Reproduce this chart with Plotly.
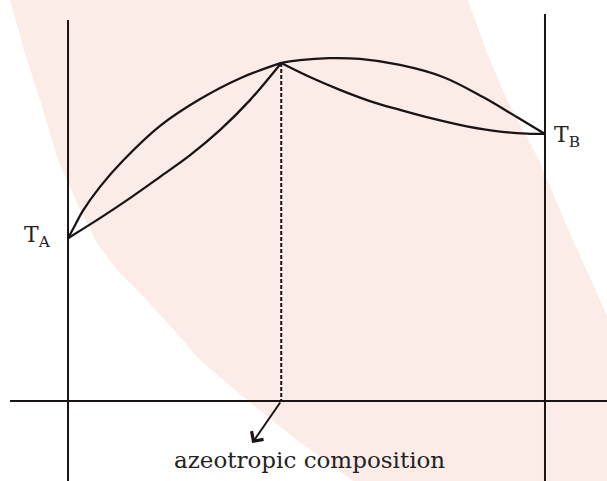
import plotly.graph_objects as go

# composition (mole fraction of B) and temperature (arbitrary units)
vap_left_x = [0, 0.015, 0.031, 0.067, 0.115, 0.193, 0.277, 0.361, 0.447]
vap_left_t = [40.6, 43.9, 47.4, 53.4, 59.9, 68.6, 75.3, 80.5, 84.3]
liq_left_x = [0, 0.067, 0.130, 0.193, 0.256, 0.319, 0.382, 0.447]
liq_left_t = [40.6, 45.6, 50.6, 55.9, 61.3, 67.6, 75.1, 84.3]
vap_right_x = [0.447, 0.486, 0.547, 0.612, 0.696, 0.786, 0.870, 0.941, 1.0]
vap_right_t = [84.3, 85.0, 85.5, 85.3, 83.8, 80.8, 75.8, 70.8, 66.6]
liq_right_x = [0.447, 0.507, 0.570, 0.633, 0.696, 0.765, 0.836, 0.906, 0.962, 1.0]
liq_right_t = [84.3, 80.8, 77.6, 74.8, 72.6, 70.4, 68.5, 67.2, 66.7, 66.6]
azeo_x = 0.447
azeo_t = 84.3
T_A = 40.6
T_B = 66.6
labels = {"TA": "T<sub>A</sub>", "TB": "T<sub>B</sub>", "azeo": "azeotropic composition"}

X_RANGE = [-0.1426, 1.1300]
Y_RANGE = [-19.95, 100.0]

INK = "#1a1414"
W, H = 607, 481

fig = go.Figure()

# axis frame lines
fig.add_trace(go.Scatter(x=[0, 0], y=[95.0, Y_RANGE[0]], mode="lines",
                         line=dict(color=INK, width=2), hoverinfo="skip"))
fig.add_trace(go.Scatter(x=[1, 1], y=[96.5, Y_RANGE[0]], mode="lines",
                         line=dict(color=INK, width=2), hoverinfo="skip"))
fig.add_trace(go.Scatter(x=[-0.1216, X_RANGE[1]], y=[0, 0], mode="lines",
                         line=dict(color=INK, width=2), hoverinfo="skip"))

for xs, ts in [(vap_left_x, vap_left_t), (liq_left_x, liq_left_t),
               (vap_right_x, vap_right_t), (liq_right_x, liq_right_t)]:
    fig.add_trace(go.Scatter(x=xs, y=ts, mode="lines",
                             line=dict(color=INK, width=2.3, shape="spline", smoothing=1.0),
                             hoverinfo="skip"))

# dashed drop line
fig.add_trace(go.Scatter(x=[azeo_x, azeo_x], y=[azeo_t, 0], mode="lines",
                         line=dict(color=INK, width=2, dash="4px,2px"), hoverinfo="skip"))

# background watermark band (paper coordinates)
left_edge = [(10, 0), (25, 53), (40, 100), (58, 160), (77, 203), (97, 243), (117, 270),
             (140, 293), (165, 320), (200, 360), (247, 400), (293, 437), (353, 481)]
right_edge = [(607, 316), (597, 293), (567, 227), (539, 160), (507, 100), (487, 53), (468, 0)]
pts = left_edge + [(607, 481)] + right_edge
path = "M " + " L ".join(f"{px / W:.4f},{1 - py / H:.4f}" for px, py in pts) + " Z"
fig.add_shape(type="path", path=path, xref="paper", yref="paper",
              fillcolor="#fbece8", line=dict(width=0), layer="below")

font_lbl = dict(family="DejaVu Serif", size=22, color="#222222")
fig.add_annotation(x=-0.031, y=T_A, text=labels["TA"], showarrow=False,
                   xanchor="right", yanchor="middle", font=font_lbl, yshift=2)
fig.add_annotation(x=1.015, y=T_B, text=labels["TB"], showarrow=False,
                   xanchor="left", yanchor="middle", font=font_lbl, yshift=-3)
fig.add_annotation(x=0.507, y=-14.7, text=labels["azeo"], showarrow=False,
                   xanchor="center", yanchor="middle",
                   font=dict(family="DejaVu Serif", size=23, color="#222222"))
# arrow from the composition point
fig.add_annotation(x=0.386, y=-10.5, ax=azeo_x, ay=0, axref="x", ayref="y",
                   xref="x", yref="y", text="", showarrow=True,
                   arrowhead=4, arrowsize=1.4, arrowwidth=2, arrowcolor=INK)

fig.update_layout(
    width=W, height=H, margin=dict(l=0, r=0, t=0, b=0),
    showlegend=False, paper_bgcolor="white", plot_bgcolor="rgba(0,0,0,0)",
    xaxis=dict(range=X_RANGE, visible=False, fixedrange=True),
    yaxis=dict(range=Y_RANGE, visible=False, fixedrange=True),
)

fig.write_html("out.html", config={"displayModeBar": False},
               post_script="document.body.style.margin='0';document.body.style.overflow='hidden';")
